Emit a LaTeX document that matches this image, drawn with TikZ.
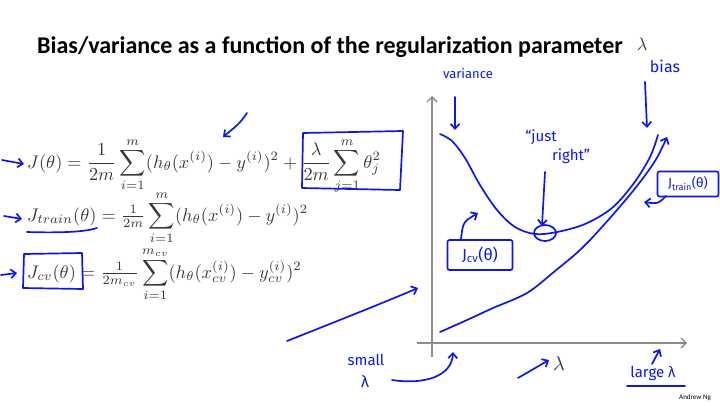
\documentclass[tikz,border=0pt]{standalone}
\usepackage{amsmath}
\usepackage{graphicx}
\usepackage{fontspec}
\setmainfont{Carlito}
\newfontfamily\handfont[Ligatures=TeX]{Fira Sans}
\usetikzlibrary{arrows.meta}
\definecolor{ink}{RGB}{12,24,235}
\definecolor{eqgray}{RGB}{55,55,55}
\definecolor{axisgray}{RGB}{140,140,140}
\newcommand{\eqscale}[1]{\scalebox{1.83}{#1}}
\tikzset{
  pen/.style={draw=ink, line width=1.7pt, line cap=round, line join=round},
  penarrow/.style={pen, -{Straight Barb[length=5pt,width=9pt]}},
  hand/.style={text=ink, font=\handfont\fontsize{13}{14}\selectfont, inner sep=1pt},
  handbox/.style={hand, draw=ink, line width=1.7pt, rounded corners=2pt, inner sep=3pt},
  eq/.style={anchor=base west, text=eqgray, inner sep=0pt},
  axisline/.style={draw=axisgray, line width=1.3pt, -{Straight Barb[length=5pt,width=10pt]}},
}
\begin{document}
\begin{tikzpicture}[x=1pt,y=-1pt]
\useasboundingbox (0,0) rectangle (720,405);

% title
\node[anchor=base west, inner sep=0pt, font=\bfseries\fontsize{24}{28}\selectfont] (title) at (37,53)
  {Bias/variance as a function of the regularization parameter};
\node[text=eqgray, inner sep=0pt] (tlam) at (642,44) {\scalebox{1.8}{$\lambda$}};

% equations
\node[eq] (eq1) at (27,168) {\eqscale{$\displaystyle J(\theta) = \frac{1}{2m}\sum_{i=1}^{m}(h_\theta(x^{(i)})-y^{(i)})^2 + \frac{\lambda}{2m}\sum_{j=1}^{m}\theta_j^2$}};
\node[eq] (eq2) at (27,221) {\eqscale{$\displaystyle J_{train}(\theta) = \tfrac{1}{2m}\sum_{i=1}^{m}(h_\theta(x^{(i)})-y^{(i)})^2$}};
\node[eq] (eq3) at (27,278) {\eqscale{$\displaystyle J_{cv}(\theta) = \tfrac{1}{2m_{cv}}\sum_{i=1}^{m_{cv}}(h_\theta(x_{cv}^{(i)})-y_{cv}^{(i)})^2$}};

% annotations on equations
\coordinate (a1s) at (2,160); \coordinate (a1e) at (24,164);
\coordinate (a2s) at (4,216); \coordinate (a2e) at (22,219);
\coordinate (a3s) at (1,275); \coordinate (a3e) at (17,273);
\draw[penarrow] (a1s) -- (a1e);
\draw[penarrow] (a2s) -- (a2e);
\draw[penarrow] (a3s) -- (a3e);
\coordinate (topa) at (247,113); \coordinate (topb) at (223,137);
\draw[penarrow] (topa) .. controls (240,123) .. (topb);
\draw[pen] (303,133) -- (403,131) -- (400,190) -- (302,188) -- cycle;
\draw[pen] (27,232) .. controls (60,233) and (85,232) .. (97,228);
\draw[pen] (24,254) -- (82,253) -- (83,289) -- (23,288) -- cycle;

% axes
\coordinate (ybot) at (432,357); \coordinate (ytop) at (432,96);
\coordinate (xl) at (417,343); \coordinate (xr) at (687,343);
\draw[axisline] (ybot) -- (ytop);
\draw[axisline] (xl) -- (xr);
\node[text=eqgray, inner sep=0pt] (xlam) at (559,364) {\scalebox{2}{$\lambda$}};
\coordinate (lamarr) at (518,378);
\draw[penarrow] (lamarr) -- ([xshift=-10pt,yshift=4pt]xlam.center);

% cv curve
\draw[pen] plot[smooth, tension=0.55] coordinates {(440,134) (452,141) (465,158) (480,185) (497,210) (515,227) (535,234) (557,232) (585,224) (612,208) (634,183) (650,157) (658,135)};
% train curve
\draw[penarrow] plot[smooth, tension=0.55] coordinates {(440,332) (467,320) (493,308) (527,293) (555,271) (580,250) (602,227) (633,191) (655,161) (667,137)};

% minimum circle
\draw[pen] (545,233) ellipse [x radius=11pt, y radius=8pt];

% labels top
\node[hand] (var) at (468,74) {variance};
\node[hand, font=\handfont\fontsize{16}{17}\selectfont] (bias) at (665,66) {bias};
\coordinate (vars) at (455,97);
\coordinate (varend) at (455,130);
\coordinate (biass) at (645,82);
\coordinate (biasend) at (647,128);
\draw[penarrow] (vars) -- (varend);
\draw[penarrow] (biass) -- (biasend);

% just right
\node[hand, font=\handfont\fontsize{15}{16}\selectfont] (just) at (541,137) {“just};
\node[hand, font=\handfont\fontsize{15}{16}\selectfont] (right) at (571,156) {right”};
\coordinate (jrs) at (545,172); \coordinate (jre) at (542,226);
\draw[penarrow] (jrs) .. controls (544,190) .. (jre);

% curve label boxes
\node[handbox, font=\handfont\fontsize{16}{17}\selectfont, minimum width=65pt, minimum height=30pt] (jcv) at (480,255) {J\textsubscript{cv}(θ)};
\node[handbox, font=\handfont\fontsize{13}{14}\selectfont, minimum width=61pt, minimum height=25pt] (jtrain) at (688,184) {J\textsubscript{train}(θ)};
\coordinate (jcvs) at (461,239);
\coordinate (jcvend) at (478,213);
\coordinate (jtrs) at (666,196);
\coordinate (jtrend) at (644,202);
\draw[penarrow] (jcvs) .. controls (463,222) .. (jcvend);
\draw[penarrow] (jtrs) .. controls (658,204) .. (jtrend);

% long arrow from left
\coordinate (las) at (287,341); \coordinate (lae) at (418,288);
\draw[penarrow] (las) .. controls (345,318) and (390,300) .. (lae);

% small lambda
\node[hand, font=\handfont\fontsize{15}{16}\selectfont] (small) at (366,360) {small};
\node[hand, font=\handfont\fontsize{16}{17}\selectfont] (slam) at (365,382) {λ};
\coordinate (sms) at (392,380);
\coordinate (smend) at (453,352);
\draw[penarrow] (sms) .. controls (425,385) and (452,376) .. (smend);

% large lambda
\node[hand, font=\handfont\fontsize{15}{16}\selectfont] (large) at (653,373) {large λ};
\draw[pen] (627,386) -- (685,386);
\coordinate (lgs) at (652,364); \coordinate (lge) at (660,349);
\draw[penarrow] (lgs) -- (lge);

% credit
\node[inner sep=0pt, font=\fontsize{7}{8}\selectfont] (credit) at (695,398) {Andrew Ng};
\end{tikzpicture}
\end{document}
